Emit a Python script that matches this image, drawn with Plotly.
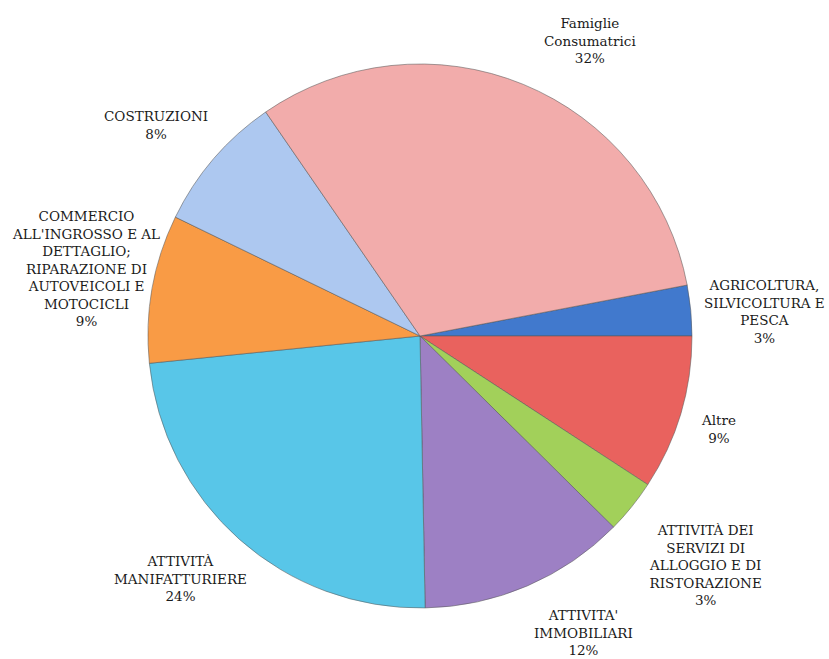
import plotly.graph_objects as go

labels = [
    "AGRICOLTURA,<br>SILVICOLTURA E<br>PESCA",
    "Altre",
    "ATTIVITÀ DEI<br>SERVIZI DI<br>ALLOGGIO E DI<br>RISTORAZIONE",
    "ATTIVITA'<br>IMMOBILIARI",
    "ATTIVITÀ<br>MANIFATTURIERE",
    "COMMERCIO<br>ALL'INGROSSO E AL<br>DETTAGLIO;<br>RIPARAZIONE DI<br>AUTOVEICOLI E<br>MOTOCICLI",
    "COSTRUZIONI",
    "Famiglie<br>Consumatrici",
]
values = [3.0, 9.2, 3.2, 12.3, 23.7, 8.8, 8.2, 31.6]
colors = ["#4179cd", "#e9625e", "#a2d05a", "#9d80c4", "#58c6e8",
          "#f99b45", "#adc8f0", "#f2acab"]

# label block centres (pixels in the 829x659 page) -- layout only
label_px = [(764, 312), (718, 429), (705, 565), (583, 632),
            (180, 578), (86, 268), (156, 125), (590, 40)]

W, H = 829, 659
cx, cy, r = 420, 336, 272

fig = go.Figure(go.Pie(
    labels=labels,
    values=values,
    sort=False,
    direction="clockwise",
    rotation=79.2,
    marker=dict(colors=colors, line=dict(color="rgba(90,90,90,0.55)", width=1)),
    textinfo="none",
    showlegend=False,
    hoverinfo="label+percent",
    domain=dict(x=[(cx - r) / W, (cx + r) / W], y=[1 - (cy + r) / H, 1 - (cy - r) / H]),
))

total = sum(values)
for lab, v, (px, py) in zip(labels, values, label_px):
    pct = round(100 * v / total)
    fig.add_annotation(
        x=px / W, y=1 - py / H, xref="paper", yref="paper",
        xanchor="center", yanchor="middle", align="center",
        text=f"{lab}<br>{pct}%", showarrow=False,
        font=dict(family="DejaVu Serif", size=13.5, color="#1a1a1a"),
    )

fig.update_layout(
    width=W, height=H,
    margin=dict(l=0, r=0, t=0, b=0),
    paper_bgcolor="white",
    plot_bgcolor="white",
)

fig.write_html("out.html")
